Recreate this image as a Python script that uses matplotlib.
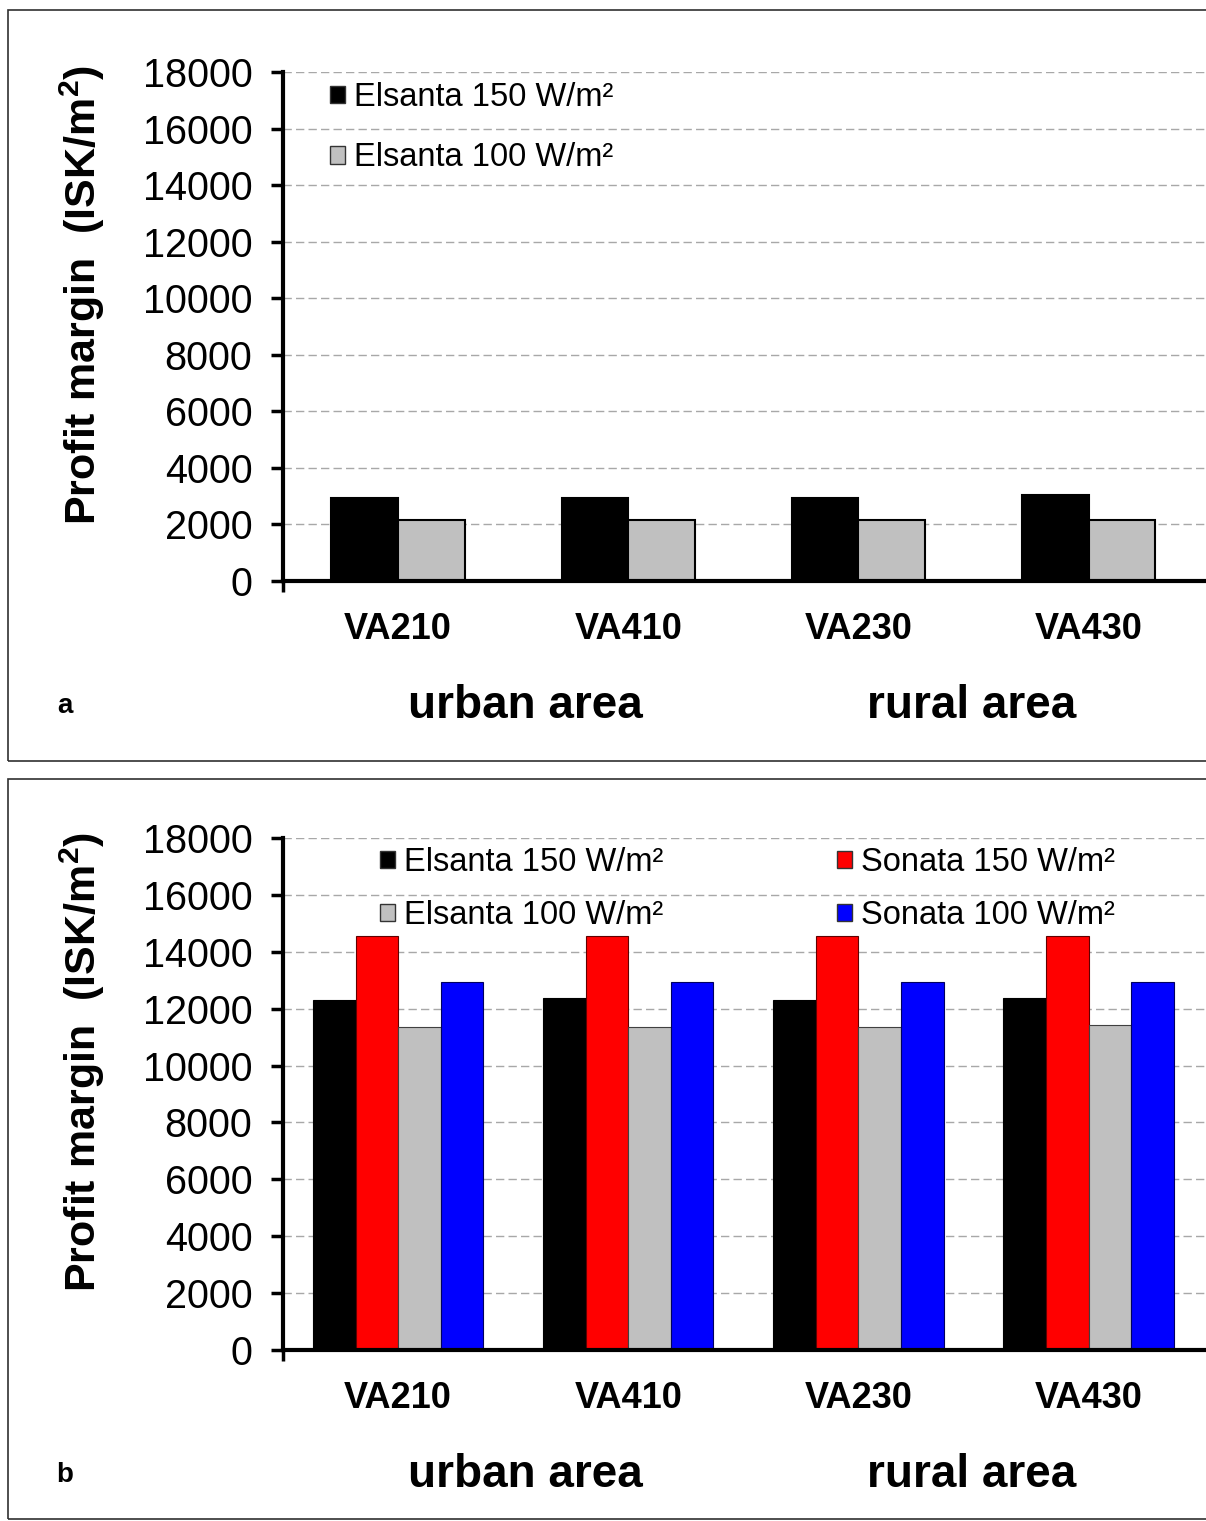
import matplotlib
matplotlib.use("Agg")
import matplotlib.pyplot as plt
from matplotlib.patches import Rectangle, Patch
import numpy as np

plt.rcParams['font.family'] = ['Liberation Sans', 'DejaVu Sans']
plt.rcParams['mathtext.fontset'] = 'custom'
plt.rcParams['mathtext.rm'] = 'Liberation Sans'
plt.rcParams['mathtext.bf'] = 'Liberation Sans:bold'

# data
sites = ['VA210', 'VA410', 'VA230', 'VA430']
areas = ['urban area', 'rural area']
yticks = [0, 2000, 4000, 6000, 8000, 10000, 12000, 14000, 16000, 18000]

elsanta150_a = [2950, 2950, 2950, 3050]
elsanta100_a = [2150, 2150, 2150, 2150]

elsanta150_b = [12290, 12360, 12290, 12360]
sonata150_b = [14540, 14540, 14540, 14540]
elsanta100_b = [11370, 11370, 11370, 11440]
sonata100_b = [12920, 12920, 12920, 12920]

W, H = 1206, 1521
fig = plt.figure(figsize=(W / 100, H / 100), dpi=100)


def fx(px):
    return px / W


def fy(py):
    return 1 - py / H


def setup_axes(ax):
    ax.set_xlim(-0.5, 3.51)
    ax.set_ylim(0, 18000)
    ax.set_yticks(yticks)
    ax.tick_params(axis='y', labelsize=28.5, length=9, width=2.5, direction='out', pad=13)
    ax.set_xticks(range(len(sites)))
    ax.set_xticklabels(sites, fontsize=26, fontweight='bold')
    ax.tick_params(axis='x', length=0, pad=22)
    ax.set_xticks([-0.5], minor=True)
    ax.tick_params(axis='x', which='minor', length=8, width=2.5, direction='out')
    for s in ['top', 'right']:
        ax.spines[s].set_visible(False)
    for s in ['left', 'bottom']:
        ax.spines[s].set_linewidth(3)
    ax.yaxis.grid(True, linestyle=(0, (6, 3)), color='#a8a8a8', linewidth=1)
    ax.set_axisbelow(True)
    ax.set_ylabel(r'Profit margin  (ISK/m$^{\mathbf{2}}$)', fontsize=31,
                  fontweight='bold')
    ax.yaxis.set_label_coords(-0.191, 0.562)


x = np.arange(len(sites))
leg_kw = dict(loc='upper left', bbox_transform=fig.transFigure, frameon=False,
              fontsize=23.5, borderpad=0, borderaxespad=0, handlelength=0.45,
              handleheight=0.45, handletextpad=0.3)

# panel a
ax1 = fig.add_axes([fx(283), fy(581), fx(923), 509 / H])
setup_axes(ax1)
bw = 0.29
ax1.bar(x - bw / 2, elsanta150_a, bw, color='black', edgecolor='black', linewidth=1.5)
ax1.bar(x + bw / 2, elsanta100_a, bw, color='#c0c0c0', edgecolor='black', linewidth=1.5)
ax1.legend(handles=[Patch(facecolor='black', edgecolor='#333333'),
                    Patch(facecolor='#c0c0c0', edgecolor='#333333')],
           labels=['Elsanta 150 W/m²', 'Elsanta 100 W/m²'],
           bbox_to_anchor=(fx(330), fy(82)), labelspacing=0.9, **leg_kw)

# panel b
ax2 = fig.add_axes([fx(283), fy(1350), fx(923), 512 / H])
setup_axes(ax2)
bw = 0.185
ax2.bar(x - 1.5 * bw, elsanta150_b, bw, color='black', edgecolor='black', linewidth=0.8)
ax2.bar(x - 0.5 * bw, sonata150_b, bw, color='#ff0000', edgecolor='#600000', linewidth=0.8)
ax2.bar(x + 0.5 * bw, elsanta100_b, bw, color='#c0c0c0', edgecolor='#404040', linewidth=0.8)
ax2.bar(x + 1.5 * bw, sonata100_b, bw, color='#0000ff', edgecolor='#000060', linewidth=0.8)
ax2.legend(handles=[Patch(facecolor='black', edgecolor='#333333'),
                    Patch(facecolor='#c0c0c0', edgecolor='#333333'),
                    Patch(facecolor='#ff0000', edgecolor='#333333'),
                    Patch(facecolor='#0000ff', edgecolor='#333333')],
           labels=['Elsanta 150 W/m²', 'Elsanta 100 W/m²',
                   'Sonata 150 W/m²', 'Sonata 100 W/m²'],
           ncol=2, bbox_to_anchor=(fx(380), fy(847)), labelspacing=0.68,
           columnspacing=5.3, **leg_kw)

# area labels and panel letters
for yc, letter in [(706, 'a'), (1475, 'b')]:
    fig.text(fx(525), fy(yc), areas[0], fontsize=33, fontweight='bold',
             ha='center', va='center')
    fig.text(fx(972), fy(yc), areas[1], fontsize=33, fontweight='bold',
             ha='center', va='center')
    fig.text(fx(65), fy(yc), letter, fontsize=20, fontweight='bold',
             ha='center', va='center')

# panel frames
for top, bottom in [(10, 761), (779, 1519)]:
    fig.patches.append(Rectangle((fx(8), fy(bottom)), fx(1250), (bottom - top) / H,
                                 transform=fig.transFigure, fill=False,
                                 edgecolor='#303030', linewidth=1.2))

fig.savefig('out.png', dpi=100)
